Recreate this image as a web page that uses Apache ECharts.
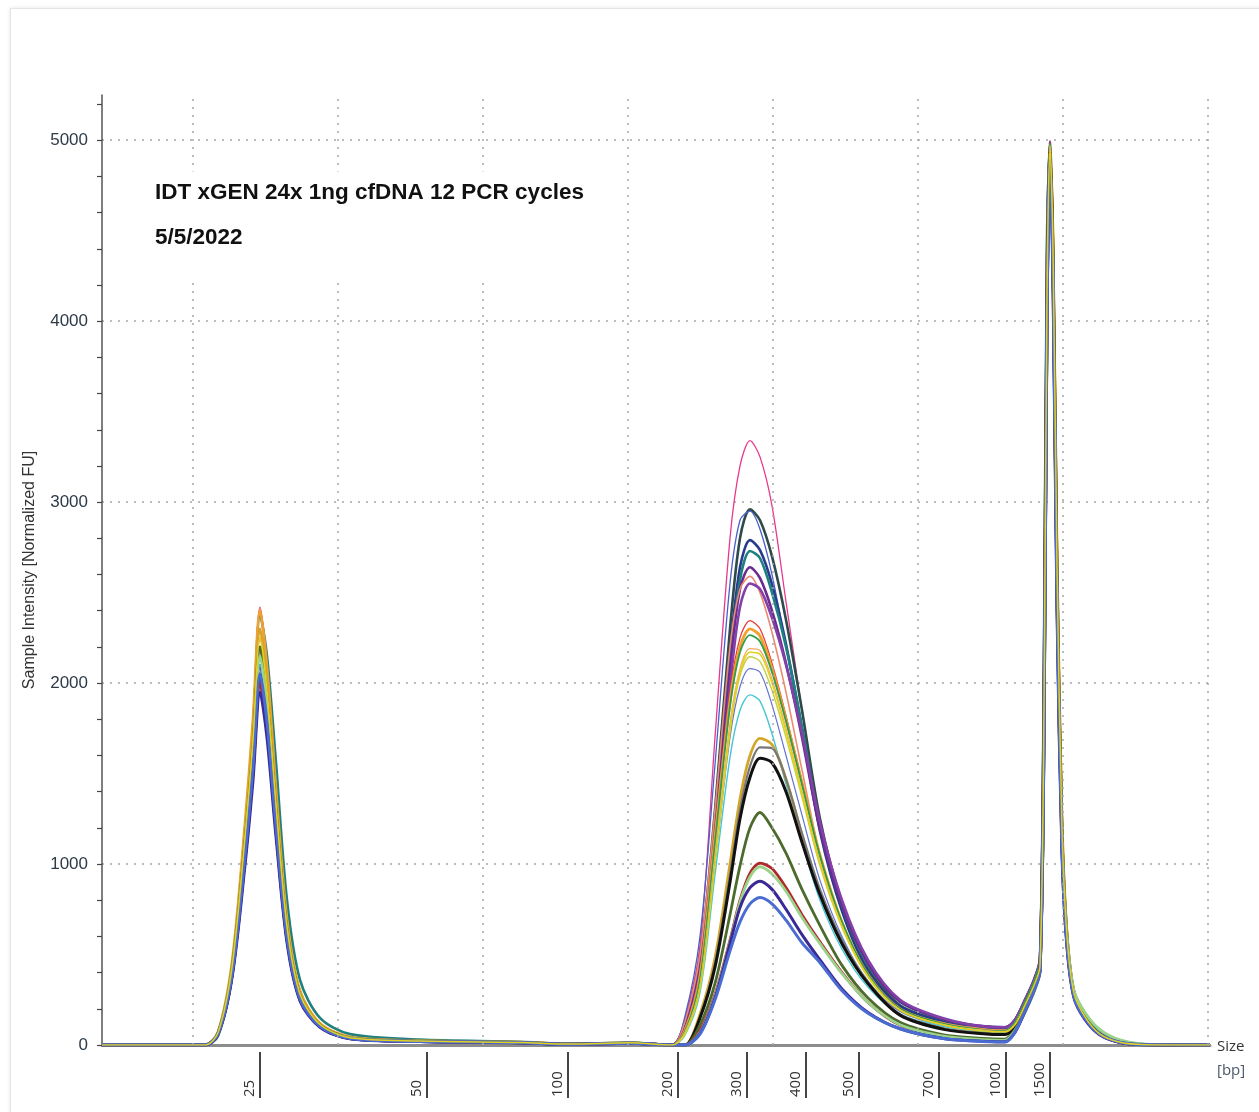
<!DOCTYPE html>
<html>
<head>
<meta charset="utf-8">
<script src="https://cdn.jsdelivr.net/npm/echarts@6/dist/echarts.min.js"></script>
<style>
html,body{margin:0;padding:0;background:#fff;overflow:hidden;}
#frame{position:absolute;left:10px;top:8px;width:1262px;height:1112px;border:1px solid #e4e4e4;box-shadow:0 0 4px rgba(0,0,0,0.10);}
#chart{position:absolute;left:0;top:0;width:1259px;height:1112px;}
</style>
</head>
<body>
<div id="frame"></div>
<div id="chart"></div>
<script>
// Migration position (arbitrary run units) of each sampled point, shared by all samples
const migration = [0, 10.3, 11.6, 13.0, 14.3, 15.1, 15.8, 16.5, 17.4, 18.5, 19.8, 21.8, 24.8, 31.8, 41.8, 46.8, 52.8,
  57.0, 58.3, 59.8, 61.3, 62.8, 63.8, 64.8, 65.8, 67.0, 68.4, 70.0, 71.8, 74.0, 76.6, 79.8, 84.3, 88.8, 90.3,
  91.3, 92.3, 93.2, 93.8, 94.2, 94.5, 94.8, 95.1, 95.5, 96.0, 96.5, 97.2, 98.3, 99.8, 101.8, 104.3, 110.8];

// Size ladder: bp labels and their migration positions
const ladderBp = ['25', '50', '100', '200', '300', '400', '500', '700', '1000', '1500'];
const ladderPos = [15.8, 32.5, 46.6, 57.6, 64.5, 70.4, 75.7, 83.7, 90.4, 94.8];

// Vertical dotted grid positions (migration units)
const gridPos = [9.1, 23.6, 38.1, 52.6, 67.1, 81.6, 96.1, 110.6];

// Y tick values
const yTickValues = [0,200,400,600,800,1000,1200,1400,1600,1800,2000,2200,2400,2600,2800,3000,3200,3400,3600,3800,4000,4200,4400,4600,4800,5000,5200];

const sampleNames = ['A1','A2','A3','A4','A5','A6','A7','A8','B1','B2','B3','B4','B5','B6','B7','B8','C1','C2','C3','C4','C5','C6','C7','C8'];

// Sample intensity [Normalized FU] at each migration position
const intensity = [
  [0, 0,68,428,1148,1688,2250,1958,1328,653,281,113,40,22,14,5,12, 0,150,550,1700,2800,3200,3340,3250,2980,2450,1850,1200,740,410,210,120,85,82, 125,235,345,455,2000,4300,5000,4350,2600,1150,580,280,160,65,18,3,0],
  [0, 0,62,390,1046,1538,2050,1784,1210,595,256,103,36,20,13,4,10, 0,120,480,1300,2300,2800,2960,2900,2700,2350,1850,1250,780,430,220,130,95,92, 135,245,355,465,2100,4350,4990,4300,2550,1150,590,285,165,68,20,3,0],
  [0, 0,65,409,1097,1613,2150,1871,1269,624,269,108,38,21,14,5,11, 0,160,600,1550,2550,2900,2950,2850,2600,2200,1720,1180,740,410,210,125,90,87, 130,240,350,460,1950,4250,4960,4300,2500,1120,570,275,155,62,16,2,0],
  [0, 0,60,380,1020,1500,2000,1740,1180,580,250,100,35,20,13,4,10, 0,113,453,1226,2169,2640,2790,2735,2546,2216,1745,1180,740,410,215,128,93,90, 130,238,348,458,1850,4150,4970,4350,2600,1180,600,290,160,64,18,3,0],
  [0, 0,50,380,1120,1700,2380,2150,1560,800,360,150,60,30,18,6,12, 0,100,430,1180,2100,2570,2730,2690,2500,2200,1760,1210,770,440,240,140,100,98, 140,250,360,480,2200,4450,4990,4250,2450,1200,620,300,175,75,22,4,0],
  [0, 0,63,399,1071,1575,2100,1827,1239,609,263,105,38,20,14,5,11, 0,110,430,1180,2080,2520,2640,2580,2400,2110,1700,1190,770,450,240,140,100,98, 140,248,358,470,2050,4300,4980,4320,2550,1150,590,285,165,70,20,3,0],
  [0, 0,69,437,1173,1725,2300,2001,1357,667,288,115,40,22,15,5,12, 0,130,500,1300,2200,2520,2590,2500,2280,1950,1520,1050,670,380,200,120,85,82, 125,232,342,450,1950,4200,4960,4280,2500,1100,560,270,150,60,15,2,0],
  [0, 0,66,418,1122,1650,2200,1914,1298,638,275,110,40,22,15,5,12, 0,90,400,1100,1980,2420,2550,2520,2360,2100,1720,1230,800,470,250,145,100,98, 140,250,360,470,2000,4250,4990,4400,2650,1200,610,295,170,72,22,4,0],
  [0, 0,73,460,1234,1815,2420,2105,1428,702,303,121,42,22,14,5,11, 0,90,400,1180,1950,2250,2345,2300,2110,1820,1460,1050,680,390,200,115,80,78, 120,228,338,445,1900,4200,4990,4400,2650,1180,590,280,155,62,16,2,0],
  [0, 0,72,456,1224,1800,2400,2088,1416,696,300,120,45,24,16,6,12, 0,80,380,1150,1900,2200,2300,2260,2080,1800,1450,1050,680,390,200,115,80,78, 118,225,335,440,1850,4150,4970,4450,2700,1220,600,280,150,58,15,2,0],
  [0, 0,65,409,1097,1613,2150,1871,1269,624,269,108,38,21,14,5,11, 0,75,360,1120,1870,2170,2265,2230,2060,1790,1440,1045,680,390,200,115,80,78, 125,238,350,465,2100,4350,4980,4280,2480,1150,600,300,180,85,28,5,0],
  [0, 0,68,428,1148,1688,2250,1958,1328,653,281,113,40,22,14,5,12, 0,70,330,1050,1780,2080,2190,2180,2020,1750,1400,1010,660,380,195,110,78,75, 115,222,332,438,1900,4200,4960,4300,2500,1100,560,270,150,60,15,2,0],
  [0, 0,62,390,1046,1538,2050,1784,1210,595,256,103,36,20,13,4,10, 0,65,320,1020,1740,2040,2145,2120,1960,1700,1370,990,650,375,190,110,75,73, 110,218,328,435,1850,4150,4950,4300,2550,1120,570,275,150,60,15,2,0],
  [0, 0,60,380,1020,1500,2000,1740,1180,580,250,100,35,20,13,4,10, 0,60,310,1000,1700,1980,2080,2060,1880,1600,1270,910,600,350,185,105,75,73, 110,218,328,432,1800,4100,4950,4350,2600,1150,580,280,155,62,16,2,0],
  [0, 0,63,399,1071,1575,2100,1827,1239,609,263,105,38,20,14,5,11, 0,55,290,940,1590,1850,1935,1900,1720,1440,1120,800,530,320,170,100,70,68, 105,212,322,428,1800,4100,4940,4300,2550,1150,600,300,170,70,20,3,0],
  [0, 0,69,437,1173,1725,2300,2001,1357,667,288,115,40,22,15,5,12, 0,0,170,480,1000,1360,1600,1695,1660,1470,1160,840,560,340,165,88,62,60, 100,210,320,425,1750,4050,4930,4450,2700,1250,620,290,155,60,15,2,0],
  [0, 0,60,380,1020,1500,2000,1740,1180,580,250,100,35,20,13,4,10, 0,0,155,450,940,1300,1540,1645,1640,1470,1170,860,580,350,170,90,64,62, 102,210,320,425,1800,4100,4950,4300,2500,1100,560,270,150,60,15,2,0],
  [0, 0,62,390,1046,1538,2050,1784,1210,595,256,103,36,20,13,4,10, 0,0,150,430,900,1250,1480,1585,1560,1400,1120,830,560,340,165,85,60,58, 100,208,318,422,1750,4050,4940,4350,2600,1150,580,275,150,60,15,2,0],
  [0, 0,66,418,1122,1650,2200,1914,1298,638,275,110,40,22,15,5,12, 0,0,110,340,720,990,1200,1285,1200,1060,860,660,440,260,125,55,35,33, 85,195,305,415,1750,4050,4920,4300,2500,1100,560,270,150,60,15,2,0],
  [0, 0,60,380,1020,1500,2000,1740,1180,580,250,100,35,20,13,4,10, 0,0,80,280,580,800,950,1005,975,870,720,570,400,235,110,45,25,22, 75,185,298,410,1700,4000,4900,4250,2450,1080,550,265,145,58,15,2,0],
  [0, 0,65,409,1097,1613,2150,1871,1269,624,269,108,38,21,14,5,11, 0,0,70,270,570,790,930,985,945,850,705,560,395,235,112,48,28,26, 78,180,290,400,1650,3950,4880,4300,2550,1150,600,300,180,85,28,5,0],
  [0, 0,59,371,995,1463,1950,1697,1151,566,244,98,34,19,12,4,10, 0,0,65,260,560,760,870,905,860,750,610,470,310,180,90,35,20,18, 70,185,300,410,1700,4000,4900,4200,2400,1050,540,260,140,55,14,2,0],
  [0, 0,62,390,1046,1538,2050,1784,1210,595,256,103,36,20,13,4,10, 0,0,60,250,520,680,780,815,780,690,565,455,300,175,90,35,18,16, 72,190,302,412,1720,4020,4910,4250,2450,1080,550,265,145,58,15,2,0],
  [0, 0,68,428,1148,1688,2250,1958,1328,653,281,113,40,22,14,5,12, 0,60,310,1000,1730,2060,2170,2160,2000,1730,1390,1000,655,378,192,108,75,73, 112,220,330,436,1850,4150,4970,4400,2650,1200,600,285,155,60,15,2,0]
];

const lineColors = ['#e8388c','#2f4a4a','#4b5fc9','#283c8e','#1e8080','#6a2c90','#ec8a74','#8240a8','#ec3b3b','#f2a12e','#2e9e4a','#f7aa66',
  '#c6d24a','#6272d2','#45c6d6','#d4a62c','#787878','#111111','#4e6b2e','#b0282c','#9ad48a','#3b2a96','#4a6cd2','#e2d21e'];
const lineWidths = [1.3,2.6,1.3,2.6,2.6,2.6,1.6,2.6,1.3,2.8,1.8,1.3,1.5,1.2,1.4,2.8,2.2,3,2.8,2.8,2.8,3,3,1.5];

const titleText = 'IDT xGEN 24x 1ng cfDNA 12 PCR cycles';
const dateText = '5/5/2022';

const chart = echarts.init(document.getElementById('chart'));

const dotted = { color: '#a8a8a8', width: 1.5, type: [2, 6] };

function bpLabel(v) {
  let best = 0, d = Infinity;
  ladderPos.forEach((p, i) => { const dd = Math.abs(p - v); if (dd < d) { d = dd; best = i; } });
  return ladderBp[best];
}

const series = [{
  type: 'line',
  data: [],
  silent: true,
  z: 1,
  markLine: {
    silent: true,
    symbol: ['none', 'none'],
    label: { show: false },
    lineStyle: dotted,
    emphasis: { disabled: true },
    animation: false,
    data: gridPos.map(v => ({ xAxis: v }))
  }
}];

intensity.forEach((vals, i) => {
  series.push({
    type: 'line',
    name: sampleNames[i],
    data: migration.map((x, j) => [x, vals[j]]),
    showSymbol: false,
    symbol: 'none',
    smooth: 0.3,
    silent: true,
    z: 2,
    lineStyle: { color: lineColors[i], width: lineWidths[i] },
    itemStyle: { color: lineColors[i] },
    emphasis: { disabled: true }
  });
});

chart.setOption({
  animation: false,
  backgroundColor: 'transparent',
  title: {
    text: titleText,
    subtext: dateText,
    left: 145,
    top: 172,
    padding: [10, 16, 32, 10],
    itemGap: 22,
    backgroundColor: '#ffffff',
    textStyle: { fontFamily: 'Liberation Sans, Arial, sans-serif', fontSize: 22.5, fontWeight: 'bold', color: '#111', lineHeight: 22 },
    subtextStyle: { fontFamily: 'Liberation Sans, Arial, sans-serif', fontSize: 22.5, fontWeight: 'bold', color: '#111', lineHeight: 22 }
  },
  grid: { left: 102, right: 49, top: 95, bottom: 67, containLabel: false, outerBoundsMode: 'none' },
  xAxis: [{
    type: 'value',
    min: 0,
    max: 110.8,
    position: 'bottom',
    axisLine: { show: true, onZero: false, lineStyle: { color: '#8c8c8c', width: 3 } },
    axisTick: { show: false },
    axisLabel: { show: false },
    splitLine: { show: false },
    name: '{a|Size}\n{b|[bp]}',
    nameLocation: 'end',
    nameGap: 7,
    nameTextStyle: {
      align: 'left', verticalAlign: 'middle', padding: [28, 0, 0, 0],
      rich: {
        a: { fontFamily: 'Open Sans, Noto Sans, sans-serif', fontSize: 15, color: '#333', lineHeight: 24 },
        b: { fontFamily: 'Open Sans, Noto Sans, sans-serif', fontSize: 15, color: '#4a5868', lineHeight: 24 }
      }
    }
  }, {
    type: 'value',
    min: 0,
    max: 110.8,
    position: 'bottom',
    offset: 7,
    axisLine: { show: false, onZero: false },
    axisTick: { show: true, customValues: ladderPos, length: 46, lineStyle: { color: '#444', width: 2 } },
    axisLabel: {
      show: true, customValues: ladderPos, formatter: bpLabel,
      rotate: 90, margin: 45, align: 'left', verticalAlign: 'bottom', padding: [0, 0, 3, 0],
      fontFamily: 'Open Sans, Noto Sans, sans-serif', fontSize: 15, color: '#333'
    },
    splitLine: { show: false }
  }],
  yAxis: [{
    type: 'value',
    min: 0,
    max: 5250,
    interval: 1000,
    position: 'left',
    axisLine: { show: true, onZero: false, lineStyle: { color: '#555', width: 1.5 } },
    axisTick: { show: false },
    axisLabel: { showMaxLabel: false, margin: 14, formatter: v => String(v), fontFamily: 'Liberation Sans, Arial, sans-serif', fontSize: 17, color: '#2d3a48' },
    splitLine: { show: true, showMaxLine: false, showMinLine: false, lineStyle: dotted },
    name: 'Sample Intensity [Normalized FU]',
    nameLocation: 'middle',
    nameGap: 64,
    nameTextStyle: { fontFamily: 'Liberation Sans, Arial, sans-serif', fontSize: 16, color: '#333' }
  }, {
    type: 'value',
    min: 0,
    max: 5250,
    position: 'left',
    axisLine: { show: false, onZero: false },
    axisTick: { show: true, customValues: yTickValues, length: 5, lineStyle: { color: '#444', width: 1.2 } },
    axisLabel: { show: false },
    splitLine: { show: false }
  }],
  series: series
});
</script>
</body>
</html>
